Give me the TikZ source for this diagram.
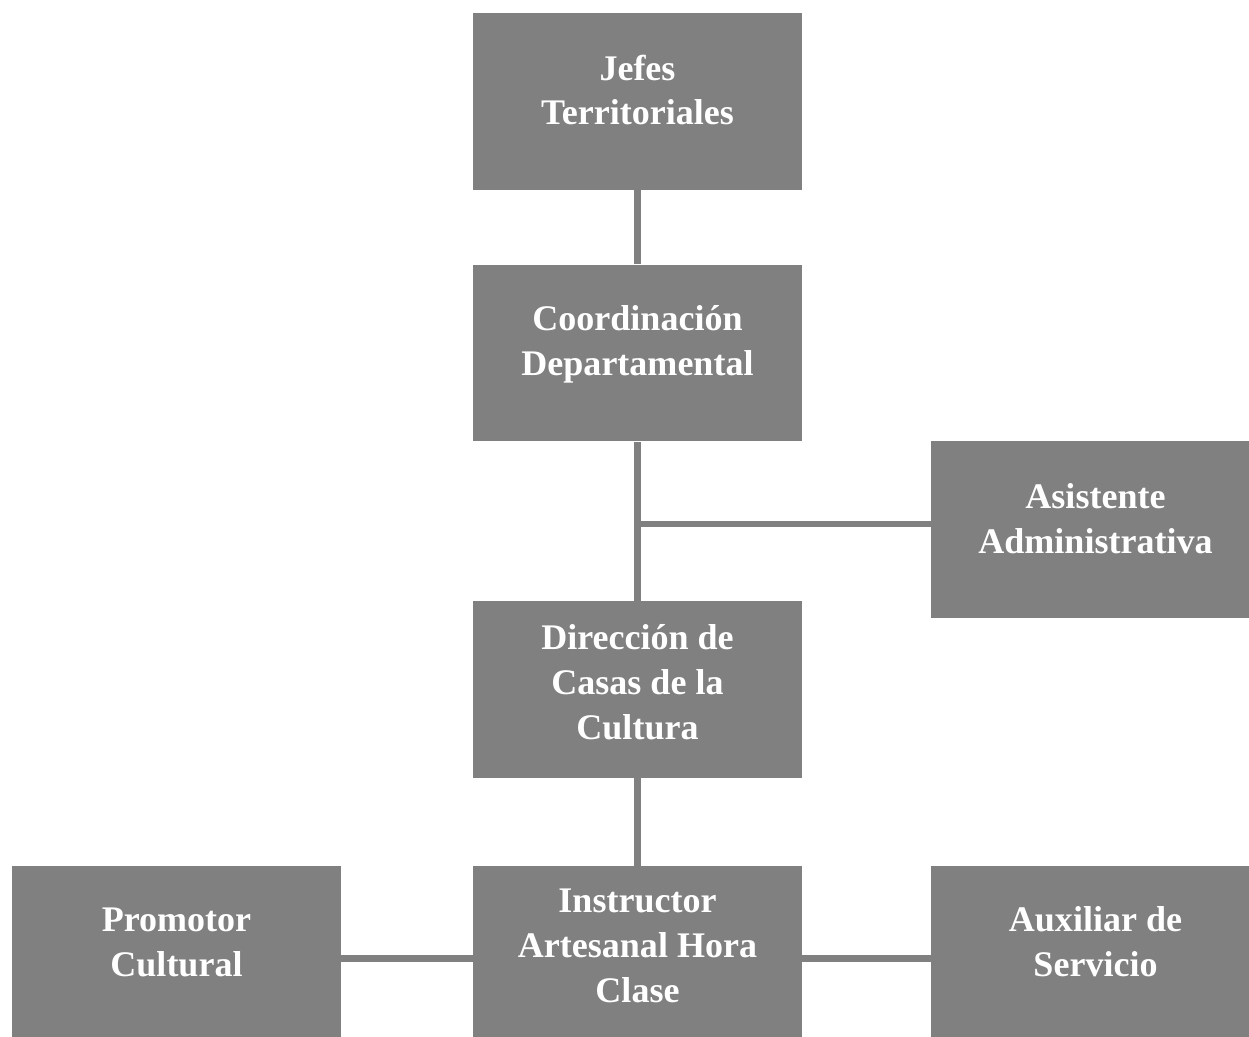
\documentclass[tikz,border=0pt]{standalone}
\usepackage{fontspec}
\setmainfont{Liberation Serif}
\definecolor{boxgray}{RGB}{128,128,128}
\begin{document}
\begin{tikzpicture}[x=0.02cm,y=-0.02cm,
    orgbox/.style={fill=boxgray,draw=none,minimum width=6.58cm,minimum height=3.54cm,inner sep=0pt},
    lowbox/.style={orgbox,minimum height=3.70cm},
    orgtext/.style={text=white,align=center,inner sep=0pt,
        font=\fontsize{20.5}{25.6}\selectfont\bfseries},
    link/.style={draw=boxgray,line width=0.14cm}]
    \useasboundingbox (0,0) rectangle (1249,1037);
    % boxes
    \node[orgbox] (jefes) at (637.5,101.5) {};
    \node[orgbox] (coord) at (637.5,353) {};
    \node[orgbox] (asist) at (1095.5,529.5) {};
    \node[orgbox] (direc) at (637.5,689.5) {};
    \node[lowbox] (promo) at (176.5,958.5) {};
    \node[lowbox] (instr) at (637.5,958.5) {};
    \node[lowbox] (auxil) at (1095.5,958.5) {};
    % texts
    \node[orgtext] (jefes-txt) at (637.5,90) {Jefes\\Territoriales};
    \node[orgtext] (coord-txt) at (637.5,344) {Coordinación\\Departamental};
    \node[orgtext] (asist-txt) at (1095.5,518.5) {Asistente\\Administrativa};
    \node[orgtext] (direc-txt) at (637.5,682) {Dirección de\\Casas de la\\Cultura};
    \node[orgtext] (promo-txt) at (176.5,942) {Promotor\\Cultural};
    \node[orgtext] (instr-txt) at (637.5,946) {Instructor\\Artesanal Hora\\Clase};
    \node[orgtext] (auxil-txt) at (1095.5,942) {Auxiliar de\\Servicio};
    % connectors
    \coordinate (jct) at (637.5,524);
    \draw[link] (jefes.south) -- (coord.north);
    \draw[link] (coord.south) -- (direc.north);
    \draw[link] (jct) -- (jct -| asist.west);
    \draw[link] (direc.south) -- (instr.north);
    \draw[link] (promo.east) -- (instr.west);
    \draw[link] (instr.east) -- (auxil.west);
\end{tikzpicture}
\end{document}
